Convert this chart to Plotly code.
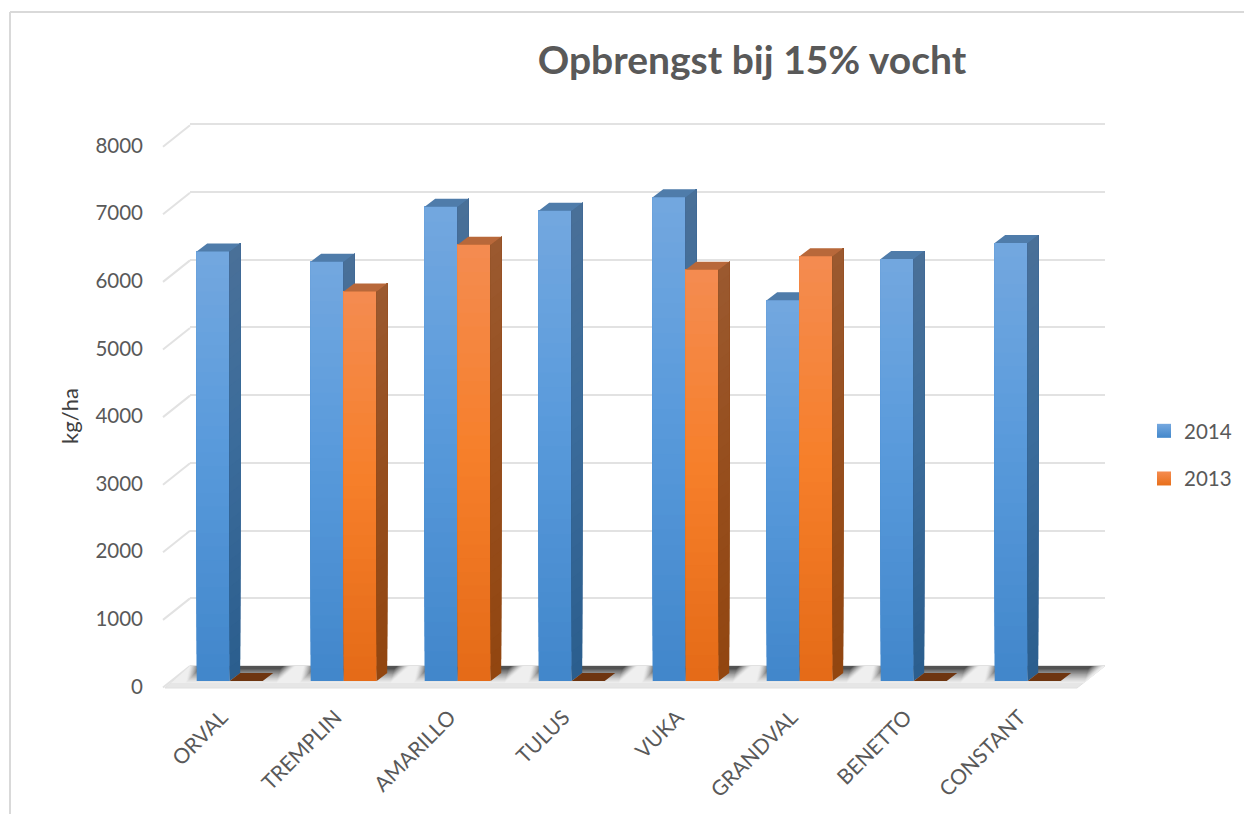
import plotly.graph_objects as go

# ---------- data ----------
categories = ["ORVAL", "TREMPLIN", "AMARILLO", "TULUS", "VUKA", "GRANDVAL", "BENETTO", "CONSTANT"]
values_2014 = [6340, 6190, 7000, 6940, 7140, 5620, 6230, 6465]
values_2013 = [0, 5750, 6440, 0, 6070, 6270, 0, 0]
y_ticks = [0, 1000, 2000, 3000, 4000, 5000, 6000, 7000, 8000]
title_text = "Opbrengst bij 15% vocht"
y_title = "kg/ha"

# ---------- page geometry (pixels) ----------
W, H = 1244, 814
PX_PER_CAT = 114.0
CAT0_PX = 229.7
PLOT_L, PLOT_R, PLOT_T, PLOT_B = 146, 1130, 90, 700
LABEL_T = 132                 # label axis top, so its title centres where the reference has it
WALL_L, WALL_R = 190, 1105
PX_PER_UNIT = 0.0676          # label / floor plane
PX_PER_UNIT_BAR = 0.06775     # bar plane
ZERO_LABEL_PX, ZERO_BAR_PX, ZERO_WALL_PX = 685, 681, 666
LABEL_NUDGE = 1.5             # tick text sits this far below its nominal row
BAR_W = 33 / PX_PER_CAT
DX = 10.5 / PX_PER_CAT        # side face depth
DY = 8 / PX_PER_UNIT_BAR      # top face depth
N = 32


def dx(px):
    return px / PX_PER_CAT


def fy(p):
    """floor-plane value for pixel row p"""
    return (ZERO_LABEL_PX - p) / PX_PER_UNIT


def lerp(stops, t):
    for (a, ca), (b, cb) in zip(stops, stops[1:]):
        if t <= b:
            u = (t - a) / (b - a)
            c = [round(x + (y - x) * u) for x, y in zip(ca, cb)]
            return f"rgb({c[0]},{c[1]},{c[2]})"
    c = stops[-1][1]
    return f"rgb({c[0]},{c[1]},{c[2]})"


# gradient stops from bottom (0) to top (1)
BLUE_FRONT = [(0, (66, 135, 203)), (0.55, (90, 155, 220)), (1, (116, 168, 223))]
BLUE_SIDE = [(0, (43, 94, 142)), (0.55, (60, 108, 155)), (1, (74, 112, 152))]
ORANGE_FRONT = [(0, (229, 107, 24)), (0.5, (246, 127, 42)), (1, (244, 140, 82))]
ORANGE_SIDE = [(0, (146, 70, 16)), (0.5, (150, 78, 30)), (1, (155, 90, 48))]
BLUE_TOP, ORANGE_TOP, ORANGE_TOP_ZERO = "rgb(79,124,170)", "rgb(184,104,58)", "rgb(110,53,16)"

fig = go.Figure()

# ---------- subplot 1: back wall with gridlines ----------
fig.add_trace(go.Scatter(x=[0], y=[0], mode="markers", marker=dict(opacity=0), showlegend=False,
                         hoverinfo="skip", xaxis="x", yaxis="y"))

# ---------- subplot 2: floor and side wall diagonals ----------
diag_x, diag_y = [], []
for v in y_ticks:
    diag_x += [dx(163 - CAT0_PX), dx(WALL_L - CAT0_PX), None]
    diag_y += [v + fy(687.5), v + fy(666), None]
fig.add_trace(go.Scatter(x=diag_x, y=diag_y, mode="lines", line=dict(color="#e2e2e2", width=2),
                         showlegend=False, hoverinfo="skip", xaxis="x2", yaxis="y2"))

floor_x = [dx(p - CAT0_PX) for p in (165, WALL_L, WALL_R, 1077, 165)]
floor_y = [fy(p) for p in (688, 666, 666, 688, 688)]
fig.add_trace(go.Scatter(x=floor_x, y=floor_y, fill="toself", mode="lines", fillcolor="#e6e6e6",
                         line=dict(color="#e0e0e0", width=1), showlegend=False, hoverinfo="skip",
                         xaxis="x2", yaxis="y2"))
mid_x = [dx(p - CAT0_PX) for p in (171, WALL_L, WALL_R, 1084, 171)]
mid_y = [fy(p) for p in (683, 666, 666, 683, 683)]
fig.add_trace(go.Scatter(x=mid_x, y=mid_y, fill="toself", mode="lines", fillcolor="#efefef",
                         line=dict(width=0), showlegend=False, hoverinfo="skip", xaxis="x2", yaxis="y2"))

# soft shadow behind every group: nested polygons, light to dark
M = 16
for k in range(M):
    s = k / (M - 1)
    g = round(236 - (236 - 82) * s ** 1.3)
    sx, sy = [], []
    for i in range(len(categories)):
        left = -40 + 10 * s
        right = (66 if i < len(categories) - 1 else 76) - 12 * s
        depth = 14 * (1 - s) + 3
        slant = depth * 1.15
        xs = [left, right, right - slant, left - slant * 0.2, left]
        ys = [666, 666, 666 + depth, 666 + depth, 666]
        sx += [i + dx(a) for a in xs] + [None]
        sy += [fy(b) for b in ys] + [None]
    fig.add_trace(go.Scatter(x=sx, y=sy, fill="toself", mode="lines", fillcolor=f"rgb({g},{g},{g})",
                             line=dict(width=0), showlegend=False, hoverinfo="skip", xaxis="x2", yaxis="y2"))

# carrier for the labelled value axis
fig.add_trace(go.Scatter(x=[0], y=[0], mode="markers", marker=dict(opacity=0), showlegend=False,
                         hoverinfo="skip", xaxis="x2", yaxis="y5"))


# ---------- bars ----------
def add_series(values, front, side, top, offset, xa, ya):
    n = range(len(values))
    for k in range(N):
        f = k / N
        fig.add_trace(go.Bar(x=list(n), base=[v * f for v in values], y=[v * (1 - f) for v in values],
                             width=BAR_W, offset=offset, marker=dict(color=lerp(front, f), line=dict(width=0)),
                             showlegend=False, hoverinfo="skip", xaxis=xa, yaxis=ya))
    for k in range(N):
        f = k / N
        sx, sy = [], []
        for i, v in enumerate(values):
            if v <= 0:
                continue
            r = i + offset + BAR_W
            sx += [r, r + DX, r + DX, r, r, None]
            sy += [v * f, v * f + DY, v + DY, v, v * f, None]
        fig.add_trace(go.Scatter(x=sx, y=sy, fill="toself", mode="lines", fillcolor=lerp(side, f),
                                 line=dict(width=0), showlegend=False, hoverinfo="skip", xaxis=xa, yaxis=ya))
    for cond, col in ((lambda v: v > 0, top), (lambda v: v <= 0, ORANGE_TOP_ZERO)):
        tx, ty = [], []
        for i, v in enumerate(values):
            if not cond(v):
                continue
            l = i + offset
            tx += [l, l + BAR_W, l + BAR_W + DX, l + DX, l, None]
            ty += [v, v, v + DY, v + DY, v, None]
        if tx:
            fig.add_trace(go.Scatter(x=tx, y=ty, fill="toself", mode="lines", fillcolor=col,
                                     line=dict(width=0), showlegend=False, hoverinfo="skip", xaxis=xa, yaxis=ya))


add_series(values_2014, BLUE_FRONT, BLUE_SIDE, BLUE_TOP, -BAR_W, "x3", "y3")
add_series(values_2013, ORANGE_FRONT, ORANGE_SIDE, ORANGE_TOP, 0, "x4", "y4")

# ---------- legend entries ----------
for name, c1, c2 in (("2014", "#75a8df", "#4287cb"), ("2013", "#f58c50", "#e86f1a")):
    fig.add_trace(go.Scatter(x=[None], y=[None], name=name, mode="markers", legendgroup=name,
                             marker=dict(symbol="square", size=14, color=c1,
                                         gradient=dict(type="vertical", color=c2)),
                             xaxis="x4", yaxis="y4"))

# ---------- axes ----------
dom_x = [PLOT_L / W, PLOT_R / W]
dom_y = [1 - PLOT_B / H, 1 - PLOT_T / H]
dom_y5 = [1 - PLOT_B / H, 1 - LABEL_T / H]
x_range = [(PLOT_L - CAT0_PX) / PX_PER_CAT, (PLOT_R - CAT0_PX) / PX_PER_CAT]
bar_range = [(ZERO_BAR_PX - PLOT_B) / PX_PER_UNIT_BAR, (ZERO_BAR_PX - PLOT_T) / PX_PER_UNIT_BAR]
floor_range = [fy(PLOT_B), fy(PLOT_T)]
label_range = [fy(PLOT_B - LABEL_NUDGE), fy(LABEL_T - LABEL_NUDGE)]
hidden = dict(visible=False, showgrid=False, zeroline=False, fixedrange=True)

fig.update_layout(
    width=W, height=H, autosize=False,
    margin=dict(l=0, r=0, t=0, b=0, autoexpand=False),
    paper_bgcolor="white", plot_bgcolor="rgba(0,0,0,0)",
    font=dict(family="Lato", color="#595959", size=20.5),
    barmode="overlay",
    title=dict(text=title_text, x=752 / W, xanchor="center", y=1 - 60 / H, yanchor="middle",
               font=dict(family="Lato", size=39, color="#595959", weight="bold")),
    xaxis=dict(domain=[WALL_L / W, WALL_R / W], range=[0, 1], **hidden),
    yaxis=dict(domain=[1 - 680 / H, 1 - 110 / H],
               range=[(ZERO_WALL_PX - 680) / PX_PER_UNIT_BAR, (ZERO_WALL_PX - 110) / PX_PER_UNIT_BAR],
               tickvals=y_ticks, showgrid=True, gridcolor="#e2e2e2", gridwidth=2,
               showticklabels=False, zeroline=False, ticks="", showline=False, fixedrange=True),
    xaxis2=dict(domain=dom_x, range=x_range, tickvals=list(range(len(categories))), ticktext=categories,
                tickangle=-45, showgrid=False, zeroline=False, showline=False, ticks="", anchor="y2",
                fixedrange=True, ticklabelshift=-8, tickfont=dict(size=21, color="#595959")),
    yaxis2=dict(domain=dom_y, range=floor_range, anchor="x2", **hidden),
    yaxis5=dict(domain=dom_y5, range=label_range, tickvals=y_ticks, showgrid=False, zeroline=False,
                showline=False, ticks="", anchor="x2", fixedrange=True, ticklabelstandoff=2,
                tickfont=dict(size=20.5, color="#595959"),
                title=dict(text=y_title, font=dict(size=22, color="#404040"), standoff=10)),
    xaxis3=dict(domain=dom_x, range=x_range, anchor="y3", **hidden),
    yaxis3=dict(domain=dom_y, range=bar_range, anchor="x3", **hidden),
    xaxis4=dict(domain=dom_x, range=x_range, anchor="y4", **hidden),
    yaxis4=dict(domain=dom_y, range=bar_range, anchor="x4", **hidden),
    legend=dict(x=1144 / W, xanchor="left", y=1 - 455 / H, yanchor="middle", tracegroupgap=18,
                bgcolor="rgba(0,0,0,0)", font=dict(size=20.5, color="#595959"), itemclick=False, itemdoubleclick=False),
    shapes=[
        dict(type="line", xref="paper", yref="paper", x0=10 / W, x1=10 / W, y0=0, y1=1 - 12 / H,
             line=dict(color="#d9d9d9", width=2)),
        dict(type="line", xref="paper", yref="paper", x0=10 / W, x1=1, y0=1 - 12 / H, y1=1 - 12 / H,
             line=dict(color="#d9d9d9", width=2)),
    ],
)

fig.write_html("out.html", config={"displayModeBar": False},
               post_script="document.body.style.margin='0';document.body.style.overflow='hidden';")
